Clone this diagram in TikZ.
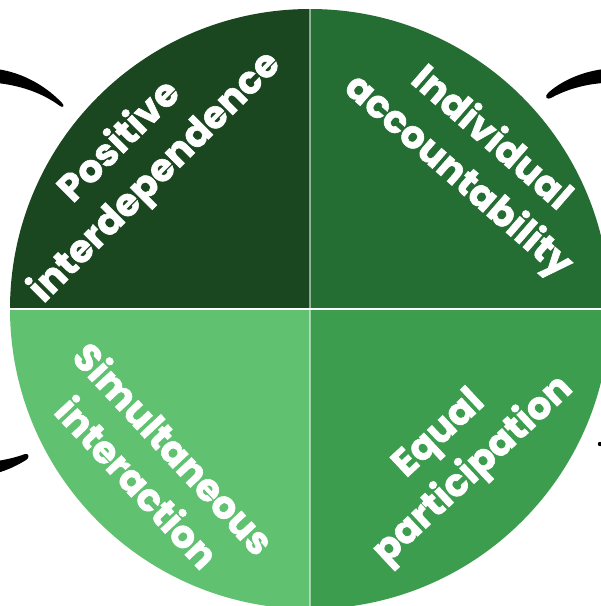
\documentclass[tikz,border=0pt]{standalone}
\usepackage{fontspec}
\setmainfont{Poppins}[BoldFeatures={FakeBold=1.6}]
\definecolor{qtl}{RGB}{27,71,32}
\definecolor{qtr}{RGB}{37,110,51}
\definecolor{qbl}{RGB}{96,193,112}
\definecolor{qbr}{RGB}{61,157,79}
\begin{document}
\begin{tikzpicture}[x=1pt,y=-1pt,
  lbl/.style={text=white, font=\bfseries\fontsize{38}{50}\selectfont, align=center, inner sep=0pt}]
\useasboundingbox (0,0) rectangle (601,606);
\clip (0,0) rectangle (601,606);
\coordinate (c) at (310,309);
% quadrants
\begin{scope}\clip (0,0) rectangle (310,309); \fill[qtl] (c) circle[radius=300]; \end{scope}
\begin{scope}\clip (310,0) rectangle (620,309); \fill[qtr] (c) circle[radius=300]; \end{scope}
\begin{scope}\clip (0,309) rectangle (310,620); \fill[qbl] (c) circle[radius=300]; \end{scope}
\begin{scope}\clip (310,309) rectangle (620,620); \fill[qbr] (c) circle[radius=300]; \end{scope}
% dividers
\draw[white, line width=2pt] (10,309) -- (610,309);
\draw[white, opacity=0.5, line width=1.5pt] (310,9) -- (310,609);
% black arc fragments
\fill[black] (-3,69) .. controls (25,73) and (48,88) .. (62,103) .. controls (65,106) and (63,108) .. (60,106) .. controls (45,95) and (25,86) .. (-3,83) -- cycle;
\fill[black] (604,69) .. controls (580,72) and (560,82) .. (548,93) .. controls (544,97) and (547,100) .. (551,98) .. controls (565,90) and (585,84) .. (604,83) -- cycle;
\fill[black] (-3,461) .. controls (10,459) and (20,456) .. (25,454) .. controls (29,453) and (30,458) .. (26,460) .. controls (18,465) and (8,470) .. (-3,473) -- cycle;
\fill[black] (600,444) circle[radius=2.2];
% labels
\node[lbl, rotate=45] (pos) at (138,160) {Positive\\interdependence};
\node[lbl, rotate=-41] (ind) at (474,158) {Individual\\accountability};
\node[lbl, rotate=-47] (sim) at (156,465) {Simultaneous\\interaction};
\node[lbl, rotate=43] (equ) at (457,453) {Equal\\participation};
\end{tikzpicture}
\end{document}
